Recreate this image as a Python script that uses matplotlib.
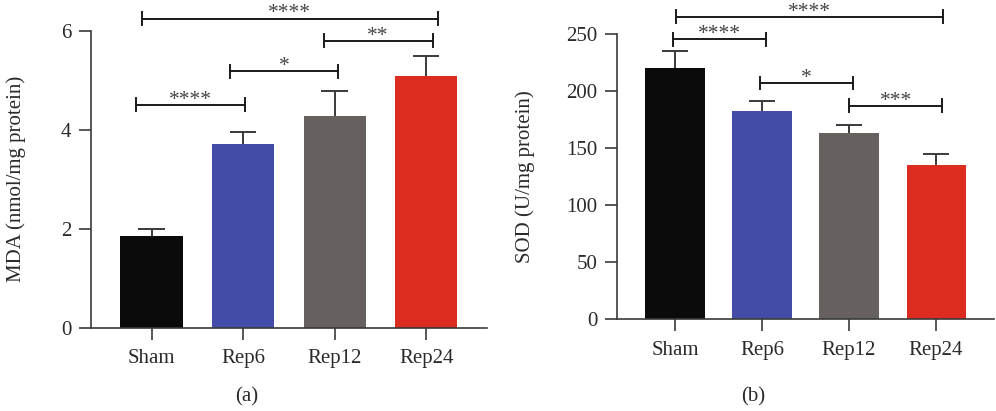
import matplotlib
matplotlib.use("Agg")
import matplotlib.pyplot as plt
import numpy as np

plt.rcParams['font.family'] = ['Liberation Serif', 'DejaVu Serif']

categories = ["Sham", "Rep6", "Rep12", "Rep24"]
colors = ["#0b0b0b", "#434ca6", "#66615f", "#db2c1f"]

mda_mean = [1.86, 3.71, 4.28, 5.08]
mda_err = [0.14, 0.25, 0.50, 0.41]
mda_ticks = [0, 2, 4, 6]

sod_mean = [219.7, 182.1, 163.3, 134.8]
sod_err = [15.4, 9.0, 7.1, 9.9]
sod_ticks = [0, 50, 100, 150, 200, 250]

# significance brackets: (x_start, x_end, y, label)
mda_sig = [(-0.11, 3.13, 6.25, "****"), (-0.17, 1.02, 4.51, "****"),
           (0.86, 2.04, 5.19, "*"), (1.88, 3.07, 5.80, "**")]
sod_sig = [(0.01, 3.08, 264.9, "****"), (-0.02, 1.05, 245.1, "****"),
           (0.98, 2.05, 206.8, "*"), (2.0, 3.07, 187.0, "***")]

W, H = 996, 411
fig = plt.figure(figsize=(W / 100, H / 100), dpi=100)

axis_col = "#3a3a3a"
text_col = "#2a2a2a"


def make_panel(rect, means, errs, ticks, ylim, ylabel, sig, lab_x, tick_pad):
    ax = fig.add_axes(rect)
    x = np.arange(len(categories))
    ax.bar(x, means, width=0.68, color=colors, zorder=2)
    tops = np.array(means) + np.array(errs)
    ax.vlines(x, means, tops, color=axis_col, lw=1.4, zorder=1)
    ax.hlines(tops, x - 0.145, x + 0.145, color=axis_col, lw=1.4, zorder=1)
    ax.set_xlim(-0.665, 3.665)
    ax.set_ylim(*ylim)
    ax.set_yticks(ticks)
    ax.set_xticks(x)
    ax.set_xticklabels(categories)
    for s in ["top", "right"]:
        ax.spines[s].set_visible(False)
    for s in ["left", "bottom"]:
        ax.spines[s].set_color(axis_col)
        ax.spines[s].set_linewidth(1.2)
    ax.tick_params(axis='both', length=8.6, width=1.2, color=axis_col,
                   labelsize=15, labelcolor=text_col)
    ax.tick_params(axis='y', pad=tick_pad)
    ax.tick_params(axis='x', pad=7)
    ax.set_ylabel(ylabel, fontsize=15, color=text_col)
    ax.yaxis.set_label_coords(lab_x, 0.5)
    yr = ylim[1] - ylim[0]
    for x0, x1, y, lab in sig:
        ax.plot([x0, x1], [y, y], color="#1a1a1a", lw=1.4, clip_on=False)
        for xe in (x0, x1):
            ax.plot([xe, xe], [y - yr * 0.022, y + yr * 0.022], color="#1a1a1a",
                    lw=1.4, clip_on=False)
        ax.annotate(lab, xy=((x0 + x1) / 2, y), xytext=(0, -3.5), textcoords='offset points',
                    ha='center', va='bottom', fontsize=15.5, color="#444444",
                    annotation_clip=False)
    return ax


make_panel([0.0911, 0.2027, 0.3979, 0.7219], mda_mean, mda_err, mda_ticks, (0, 6),
           "MDA (nmol/mg protein)", mda_sig, -0.163, 5.5)
make_panel([0.6195, 0.2231, 0.3785, 0.6949], sod_mean, sod_err, sod_ticks, (0, 250),
           "SOD (U/mg protein)", sod_sig, -0.218, 5.5)

fig.text(247 / W, 1 - 397 / H, "(a)", ha='center', va='center', fontsize=15, color=text_col)
fig.text(753 / W, 1 - 397 / H, "(b)", ha='center', va='center', fontsize=15, color=text_col)

fig.savefig("out.png", dpi=100)
